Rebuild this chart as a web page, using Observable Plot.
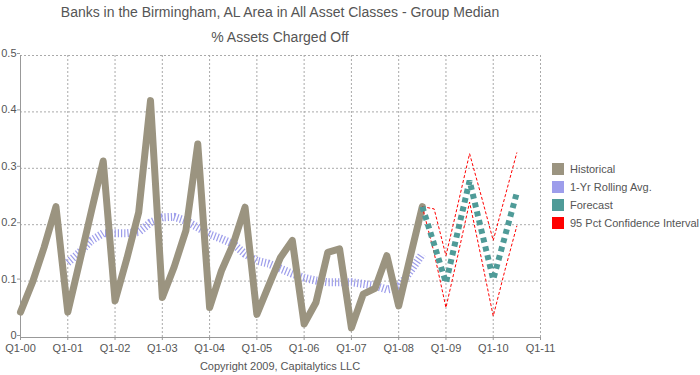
<!DOCTYPE html>
<html><head><meta charset="utf-8">
<script src="https://cdn.jsdelivr.net/npm/d3@7"></script>
<script src="https://cdn.jsdelivr.net/npm/@observablehq/plot@0.6"></script>
<style>
body{margin:0;background:#fff;font-family:"Liberation Sans",Arial,Helvetica,sans-serif;}
#wrap{position:relative;width:700px;height:375px;overflow:hidden;background:#fff;}
.t{position:absolute;left:0;width:560px;text-align:center;color:#555;white-space:nowrap;line-height:16px;}
#title{top:4px;font-size:14px;}
#subtitle{top:29px;font-size:14px;}
#caption{top:360px;font-size:11px;line-height:13px;}
#chart{position:absolute;left:0;top:45px;}
#legend{position:absolute;left:552px;top:160px;font-size:11px;color:#555;}
.li{display:flex;align-items:center;height:18px;white-space:nowrap;}
.sw{width:12px;height:12px;margin-right:6px;flex:none;}
</style></head><body>
<div id="wrap">
  <div id="title" class="t"></div>
  <div id="subtitle" class="t"></div>
  <div id="chart"></div>
  <div id="legend"></div>
  <div id="caption" class="t"></div>
</div>
<script>
const titleText = "Banks in the Birmingham, AL Area in All Asset Classes - Group Median";
const subtitleText = "% Assets Charged Off";
const captionText = "Copyright 2009, Capitalytics LLC";

// quarterly series
const histStart = "Q1-00";
const histValues = [
  0.045, 0.097, 0.160, 0.232,
  0.045, 0.134, 0.224, 0.313,
  0.065, 0.140, 0.222, 0.420,
  0.071, 0.125, 0.190, 0.343,
  0.053, 0.118, 0.166, 0.231,
  0.041, 0.092, 0.142, 0.172,
  0.024, 0.062, 0.151, 0.157,
  0.017, 0.077, 0.087, 0.145,
  0.056, 0.145, 0.232
];
const rollStart = "Q1-01";
const rollValues = [
  0.133, 0.151, 0.172, 0.185,
  0.185, 0.185, 0.187, 0.204,
  0.213, 0.214, 0.207, 0.195,
  0.183, 0.175, 0.166, 0.148,
  0.136, 0.131, 0.122, 0.113,
  0.106, 0.101, 0.098, 0.098,
  0.098, 0.095, 0.092, 0.085,
  0.089, 0.118, 0.148
];
const forecastStart = "Q3-08";
const forecastValues = [0.232, 0.165, 0.097, 0.188, 0.278, 0.190, 0.103, 0.180, 0.257];
const ciUpperValues  = [0.232, 0.228, 0.145, 0.235, 0.326, 0.250, 0.172, 0.250, 0.328];
const ciLowerValues  = [0.232, 0.150, 0.053, 0.145, 0.240, 0.140, 0.038, 0.120, 0.198];

const xTickLabels = ["Q1-00","Q1-01","Q1-02","Q1-03","Q1-04","Q1-05","Q1-06","Q1-07","Q1-08","Q1-09","Q1-10","Q1-11"];
const yTicks = [0, 0.1, 0.2, 0.3, 0.4, 0.5];

const legendLabels = ["Historical", "1-Yr Rolling Avg.", "Forecast", "95 Pct Confidence Interval"];
const legendColors = ["#9b9480", "#9d9deb", "#4f9b98", "#ff0000"];

// helpers: quarter label -> decimal year position
function periodToYear(label) {
  const q = +label[1];
  const yy = +label.slice(3);
  return 2000 + yy + (q - 1) / 4;
}
function series(start, values) {
  const s = periodToYear(start);
  return values.map((v, i) => ({t: s + i / 4, v}));
}

const histData = series(histStart, histValues);
const rollData = series(rollStart, rollValues);
const fcData = series(forecastStart, forecastValues);
const upData = series(forecastStart, ciUpperValues);
const loData = series(forecastStart, ciLowerValues);
const xTickValues = xTickLabels.map(periodToYear);
const tickLabelOf = new Map(xTickValues.map((v, i) => [v, xTickLabels[i]]));

document.getElementById("title").textContent = titleText;
document.getElementById("subtitle").textContent = subtitleText;
document.getElementById("caption").textContent = captionText;

const gridStyle = {stroke: "#aaa", strokeOpacity: 1, strokeDasharray: "2,2"};

const chart = Plot.plot({
  width: 700,
  height: 312,
  marginLeft: 20,
  marginRight: 160,
  marginTop: 10,
  marginBottom: 20,
  style: {fontFamily: "'Liberation Sans', Arial, sans-serif", fontSize: "11px", color: "#555", background: "transparent", overflow: "visible"},
  x: {type: "linear", domain: [periodToYear(xTickLabels[0]), periodToYear(xTickLabels[xTickLabels.length - 1])]},
  y: {domain: [yTicks[0], yTicks[yTicks.length - 1]]},
  marks: [
    Plot.gridY(yTicks.slice(1), gridStyle),
    Plot.gridX(xTickValues.slice(1), gridStyle),
    Plot.ruleX([xTickValues[0]], {stroke: "#999"}),
    Plot.ruleY([0], {stroke: "#999"}),
    Plot.axisX(xTickValues, {tickFormat: d => tickLabelOf.get(d), tickSize: 3, tickPadding: 4, label: null, stroke: "#999", fill: "#555"}),
    Plot.axisY(yTicks, {tickFormat: d => d === 0 ? "0" : String(d), tickSize: 3, tickPadding: 1, dy: -2, label: null, stroke: "#999", fill: "#555"}),
    Plot.line(rollData, {x: "t", y: "v", stroke: legendColors[1], strokeWidth: 8, strokeDasharray: "1.2,2", strokeLinecap: "butt", strokeLinejoin: "miter"}),
    Plot.line(histData, {x: "t", y: "v", stroke: legendColors[0], strokeWidth: 7, strokeLinejoin: "round", strokeLinecap: "round"}),
    Plot.line(upData, {x: "t", y: "v", stroke: legendColors[3], strokeWidth: 1, strokeDasharray: "3,2", strokeLinecap: "butt"}),
    Plot.line(loData, {x: "t", y: "v", stroke: legendColors[3], strokeWidth: 1, strokeDasharray: "3,2", strokeLinecap: "butt"}),
    Plot.line(fcData, {x: "t", y: "v", stroke: legendColors[2], strokeWidth: 6, strokeDasharray: "5,4", strokeLinecap: "butt", strokeLinejoin: "miter"})
  ]
});
document.getElementById("chart").appendChild(chart);

const legend = document.getElementById("legend");
legendLabels.forEach((lab, i) => {
  const row = document.createElement("div");
  row.className = "li";
  const sw = document.createElement("div");
  sw.className = "sw";
  sw.style.background = legendColors[i];
  const tx = document.createElement("span");
  tx.textContent = lab;
  row.appendChild(sw);
  row.appendChild(tx);
  legend.appendChild(row);
});
</script>
</body></html>
